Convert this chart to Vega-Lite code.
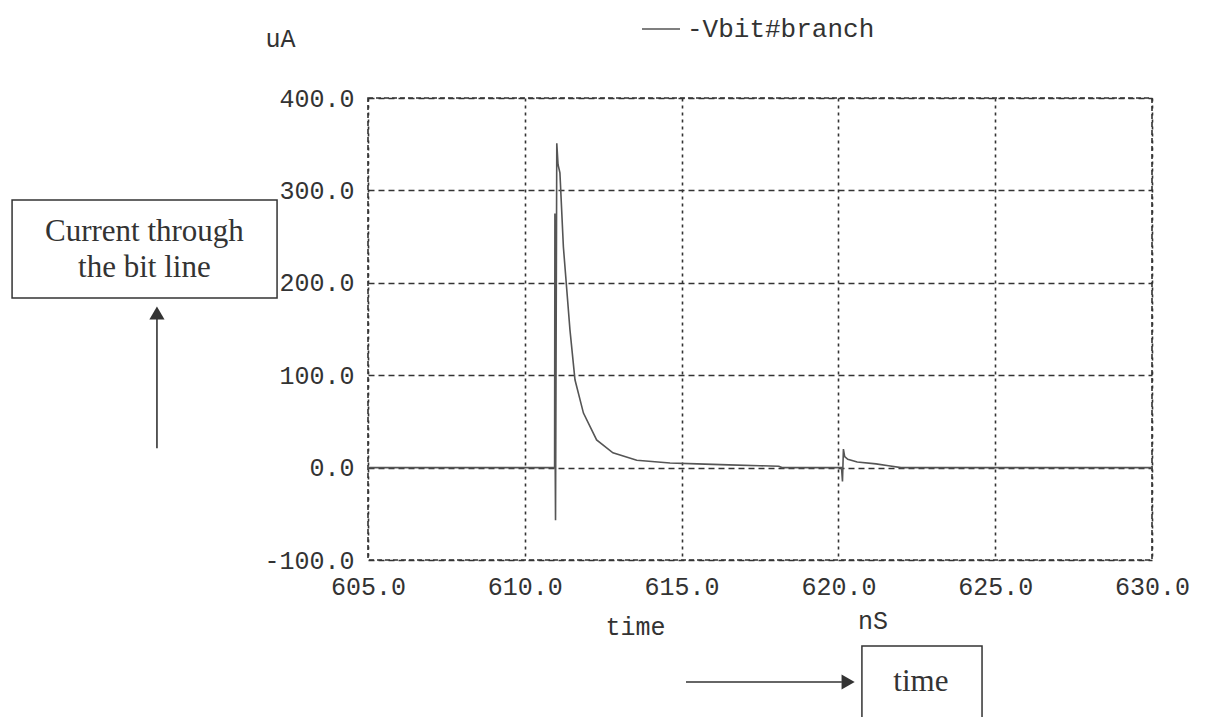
{
  "$schema": "https://vega.github.io/schema/vega-lite/v6.json",
  "width": 784,
  "height": 462,
  "autosize": {"type": "none"},
  "padding": {"left": 368, "top": 98, "right": 60, "bottom": 157},
  "background": "#ffffff",
  "datasets": {
    "trace": [
      {"t": 605, "v": 0}, {"t": 610.95, "v": 0}, {"t": 610.96, "v": 275}, {"t": 610.97, "v": 0},
      {"t": 610.98, "v": -57}, {"t": 611.02, "v": 351}, {"t": 611.06, "v": 328}, {"t": 611.12, "v": 319},
      {"t": 611.23, "v": 239}, {"t": 611.44, "v": 149}, {"t": 611.6, "v": 95}, {"t": 611.87, "v": 59},
      {"t": 612.29, "v": 30}, {"t": 612.81, "v": 16}, {"t": 613.57, "v": 8}, {"t": 614.63, "v": 5},
      {"t": 615.5, "v": 4}, {"t": 616.5, "v": 3}, {"t": 617.5, "v": 2}, {"t": 618.1, "v": 1.5},
      {"t": 618.2, "v": 0}, {"t": 620.1, "v": 0}, {"t": 620.13, "v": -15}, {"t": 620.16, "v": 20},
      {"t": 620.2, "v": 12}, {"t": 620.3, "v": 9}, {"t": 620.6, "v": 6}, {"t": 621.2, "v": 4},
      {"t": 621.6, "v": 2}, {"t": 622, "v": 0}, {"t": 630, "v": 0}
    ],
    "boxes": [
      {"t": 593.65, "t2": 602.1, "v": 289.6, "v2": 183.5},
      {"t": 620.75, "t2": 624.58, "v": -193, "v2": -279}
    ],
    "boxText": [
      {"t": 597.87, "v": 255, "text": "Current through"},
      {"t": 597.87, "v": 216, "text": "the bit line"},
      {"t": 622.63, "v": -232, "text": "time"}
    ],
    "units": [
      {"t": 621.1, "v": -166, "text": "nS"}
    ],
    "arrows": [
      {"t": 598.27, "t2": 598.27, "v": 21, "v2": 162},
      {"t": 615.14, "t2": 620.11, "v": -232, "v2": -232}
    ],
    "heads": [
      {"t": 598.27, "v": 167.3, "dir": "up"},
      {"t": 620.31, "v": -232, "dir": "right"}
    ]
  },
  "layer": [
    {
      "data": {"name": "trace"},
      "mark": {"type": "line", "strokeWidth": 1.6, "interpolate": "linear"},
      "encoding": {
        "x": {
          "field": "t", "type": "quantitative", "title": "time",
          "scale": {"domain": [605, 630], "nice": false, "zero": false},
          "axis": {
            "values": [605, 610, 615, 620, 625, 630],
            "labelExpr": "replace(format(datum.value, '.1f'), '\u2212', '-')",
            "titleX": 267, "titleY": 66, "titleAlign": "center", "titleBaseline": "middle"
          }
        },
        "y": {
          "field": "v", "type": "quantitative", "title": "uA",
          "scale": {"domain": [-100, 400], "nice": false, "zero": false},
          "axis": {
            "values": [-100, 0, 100, 200, 300, 400],
            "labelExpr": "replace(format(datum.value, '.1f'), '\u2212', '-')",
            "titleAngle": 0, "titleX": -88, "titleY": -60, "titleAlign": "center", "titleBaseline": "middle"
          }
        },
        "color": {
          "datum": "-Vbit#branch", "type": "nominal",
          "scale": {"range": ["#555555"]},
          "legend": {
            "title": null, "orient": "none", "legendX": 273, "legendY": -89,
            "symbolType": "stroke", "symbolSize": 1444, "symbolStrokeWidth": 1.5,
            "labelFont": "Liberation Mono", "labelFontSize": 26, "labelColor": "#333333",
            "labelOffset": 6, "labelLimit": 0, "padding": 0
          }
        }
      }
    },
    {
      "data": {"name": "boxes"},
      "mark": {"type": "rect", "fill": null, "stroke": "#333333", "strokeWidth": 1.5},
      "encoding": {
        "x": {"field": "t", "type": "quantitative", "title": "time", "scale": {"domain": [605, 630], "nice": false, "zero": false}},
        "x2": {"field": "t2"},
        "y": {"field": "v", "type": "quantitative", "title": "uA", "scale": {"domain": [-100, 400], "nice": false, "zero": false}},
        "y2": {"field": "v2"}
      }
    },
    {
      "data": {"name": "boxText"},
      "mark": {"type": "text", "font": "Liberation Serif", "fontSize": 31, "color": "#333333", "align": "center", "baseline": "middle"},
      "encoding": {
        "x": {"field": "t", "type": "quantitative", "title": "time", "scale": {"domain": [605, 630], "nice": false, "zero": false}},
        "y": {"field": "v", "type": "quantitative", "title": "uA", "scale": {"domain": [-100, 400], "nice": false, "zero": false}},
        "text": {"field": "text"}
      }
    },
    {
      "data": {"name": "units"},
      "mark": {"type": "text", "font": "Liberation Mono", "fontSize": 25, "color": "#333333", "align": "center", "baseline": "middle"},
      "encoding": {
        "x": {"field": "t", "type": "quantitative", "title": "time", "scale": {"domain": [605, 630], "nice": false, "zero": false}},
        "y": {"field": "v", "type": "quantitative", "title": "uA", "scale": {"domain": [-100, 400], "nice": false, "zero": false}},
        "text": {"field": "text"}
      }
    },
    {
      "data": {"name": "arrows"},
      "mark": {"type": "rule", "color": "#333333", "strokeWidth": 1.6},
      "encoding": {
        "x": {"field": "t", "type": "quantitative", "title": "time", "scale": {"domain": [605, 630], "nice": false, "zero": false}},
        "x2": {"field": "t2"},
        "y": {"field": "v", "type": "quantitative", "title": "uA", "scale": {"domain": [-100, 400], "nice": false, "zero": false}},
        "y2": {"field": "v2"}
      }
    },
    {
      "data": {"name": "heads"},
      "mark": {"type": "point", "filled": true, "color": "#333333", "size": 230, "opacity": 1},
      "encoding": {
        "x": {"field": "t", "type": "quantitative", "title": "time", "scale": {"domain": [605, 630], "nice": false, "zero": false}},
        "y": {"field": "v", "type": "quantitative", "title": "uA", "scale": {"domain": [-100, 400], "nice": false, "zero": false}},
        "shape": {"field": "dir", "type": "nominal", "scale": {"domain": ["up", "right"], "range": ["triangle-up", "triangle-right"]}, "legend": null}
      }
    }
  ],
  "config": {
    "view": {"stroke": "#333333", "strokeWidth": 1.6, "strokeDash": [5, 3]},
    "axis": {
      "grid": true, "gridColor": "#333333", "gridWidth": 1.6, "gridOpacity": 1,
      "domain": false, "ticks": false,
      "labelFont": "Liberation Mono", "labelFontSize": 25, "labelColor": "#333333",
      "titleFont": "Liberation Mono", "titleFontSize": 25, "titleFontWeight": "normal", "titleColor": "#333333"
    },
    "axisX": {"gridDash": [3, 4], "labelPadding": 14, "labelFlush": false},
    "axisY": {"gridDash": [6, 4], "labelPadding": 14}
  }
}
